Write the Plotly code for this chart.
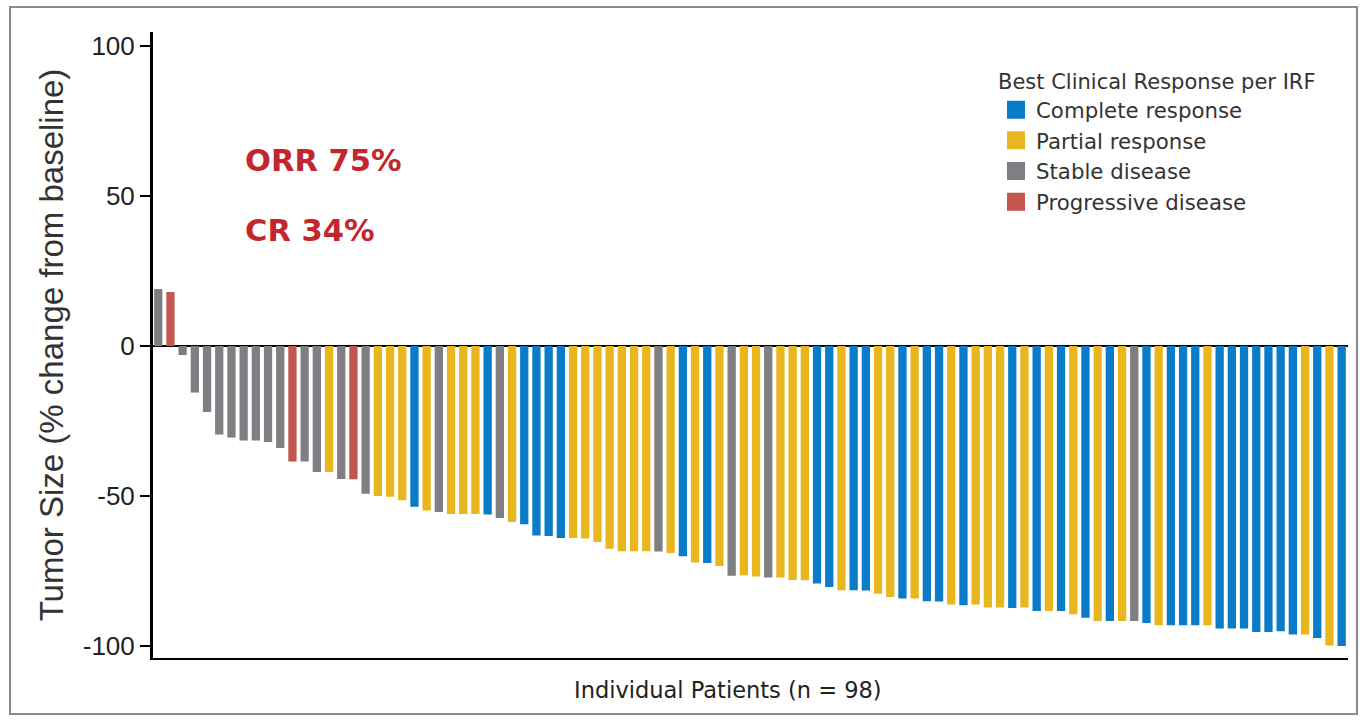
import plotly.graph_objects as go

# ---------------- data ----------------
patients = list(range(1, 99))
change = [
    19, 18, -3, -15.5, -22, -29.5, -30.5, -31.5, -31.5, -32,
    -34, -38.5, -38.5, -42, -42, -44.3, -44.4, -49.2, -50, -50.2,
    -51.4, -53.6, -54.8, -55.3, -56, -56, -56, -56.2, -57.3, -58.7,
    -59.4, -63.2, -63.3, -64, -64, -64.2, -65.3, -67.6, -68.4, -68.4,
    -68.4, -68.5, -69, -70.1, -72.2, -72.3, -73.3, -76.6, -76.4, -76.8,
    -77.2, -77.2, -78, -78.1, -79.2, -80.3, -81.4, -81.4, -81.5, -82.6,
    -83.7, -84.2, -84.2, -85.1, -85.2, -86.2, -86.4, -86.2, -87.2, -87.2,
    -87.3, -87.2, -88.3, -88.3, -88.3, -89.4, -90.6, -91.7, -91.7, -91.7,
    -91.7, -92.3, -93.1, -93.1, -93.1, -93.1, -93.1, -94.2, -94.2, -94.2,
    -95.3, -95.3, -95.1, -96.2, -96.2, -97.3, -99.8, -100,
]
response = [
    "SD", "PD", "SD", "SD", "SD", "SD", "SD", "SD", "SD", "SD",
    "SD", "PD", "SD", "SD", "PR", "SD", "PD", "SD", "PR", "PR",
    "PR", "CR", "PR", "SD", "PR", "PR", "PR", "CR", "SD", "PR",
    "CR", "CR", "CR", "CR", "PR", "PR", "PR", "PR", "PR", "PR",
    "PR", "SD", "PR", "CR", "PR", "CR", "PR", "SD", "PR", "PR",
    "SD", "PR", "PR", "PR", "CR", "CR", "PR", "CR", "CR", "PR",
    "PR", "CR", "PR", "CR", "CR", "PR", "CR", "PR", "PR", "PR",
    "CR", "PR", "CR", "PR", "CR", "PR", "CR", "PR", "CR", "PR",
    "SD", "CR", "PR", "CR", "CR", "CR", "PR", "CR", "CR", "CR",
    "CR", "CR", "CR", "CR", "PR", "CR", "PR", "CR",
]
group_codes = ["CR", "PR", "SD", "PD"]
group_names = ["Complete response", "Partial response", "Stable disease", "Progressive disease"]
group_colors = ["#0a7bc6", "#e8b71d", "#7e7e83", "#c4564f"]

y_tickvals = [-100, -50, 0, 50, 100]
y_ticktext = ["-100", "-50", "0", "50", "100"]

x_title = "Individual Patients (n = 98)"
y_title = "Tumor Size (% change from baseline)"
legend_title = "Best Clinical Response per IRF"
stat_labels = ["ORR 75%", "CR 34%"]

# ---------------- layout helpers ----------------
W, H = 1366, 722
ML, MR, MT, MB = 153, 18, 32, 64


def px_x(p):
    return (p - ML) / (W - ML - MR)


def px_y(p):
    return (H - MB - p) / (H - MT - MB)


fig = go.Figure()
for code, name, color in zip(group_codes, group_names, group_colors):
    xs = [p for p, r in zip(patients, response) if r == code]
    ys = [v for v, r in zip(change, response) if r == code]
    fig.add_trace(go.Bar(
        x=xs, y=ys, name=name, width=0.68, legendgroup=code, showlegend=False,
        marker=dict(color=color, line=dict(width=0)),
    ))
# legend entries with square swatches
for code, name, color in zip(group_codes, group_names, group_colors):
    fig.add_trace(go.Scatter(
        x=[None], y=[None], mode="markers", name=name, legendgroup=code,
        marker=dict(symbol="square", size=16, color=color, line=dict(width=2, color=color)),
        hoverinfo="skip",
    ))

fig.update_layout(
    width=W, height=H,
    margin=dict(l=ML, r=MR, t=MT, b=MB, autoexpand=False),
    paper_bgcolor="white", plot_bgcolor="white",
    barmode="overlay",
    font=dict(family="Liberation Sans, Arial, sans-serif", color="#222"),
    showlegend=True,
    legend=dict(
        x=px_x(996), y=px_y(62), xanchor="left", yanchor="top",
        bgcolor="rgba(0,0,0,0)",
        title=dict(text=legend_title, font=dict(family="DejaVu Sans", size=21, color="#333")),
        font=dict(family="DejaVu Sans", size=21.3, color="#333"),
        traceorder="normal", tracegroupgap=0, itemsizing="trace",
    ),
    xaxis=dict(
        range=[0.57, 98.52], showticklabels=False, ticks="", showgrid=False,
        zeroline=False, showline=True, linecolor="black", linewidth=2,
    ),
    yaxis=dict(
        range=[-104, 104.7], tickvals=y_tickvals, ticktext=y_ticktext,
        ticks="outside", ticklen=10, tickwidth=2, tickcolor="black",
        tickfont=dict(family="Liberation Sans, Arial", size=26, color="#222"),
        showline=True, linecolor="black", linewidth=3,
        zeroline=True, zerolinecolor="black", zerolinewidth=2,
        showgrid=False,
        title=dict(text=y_title, font=dict(family="Liberation Sans, Arial", size=33, color="#333"), standoff=10),
    ),
    annotations=[
        dict(text=x_title, x=px_x(728), y=px_y(690), xref="paper", yref="paper",
             xanchor="center", yanchor="middle", showarrow=False,
             font=dict(family="DejaVu Sans", size=22.5, color="#222")),
        dict(text="<b>%s</b>" % stat_labels[0], x=px_x(243), y=px_y(160), xref="paper", yref="paper",
             xanchor="left", yanchor="middle", showarrow=False,
             font=dict(family="DejaVu Sans", size=30.5, color="#c1272d")),
        dict(text="<b>%s</b>" % stat_labels[1], x=px_x(243), y=px_y(230), xref="paper", yref="paper",
             xanchor="left", yanchor="middle", showarrow=False,
             font=dict(family="DejaVu Sans", size=30.5, color="#c1272d")),
    ],
    shapes=[
        dict(type="rect", xref="paper", yref="paper",
             x0=px_x(10), x1=px_x(1357), y0=px_y(714), y1=px_y(7),
             line=dict(color="#8a8a8a", width=2), fillcolor="rgba(0,0,0,0)", layer="below"),
    ],
)

fig.write_html(
    "out.html",
    config={"displayModeBar": False},
    post_script="document.body.style.margin='0';document.body.style.overflow='hidden';",
)
